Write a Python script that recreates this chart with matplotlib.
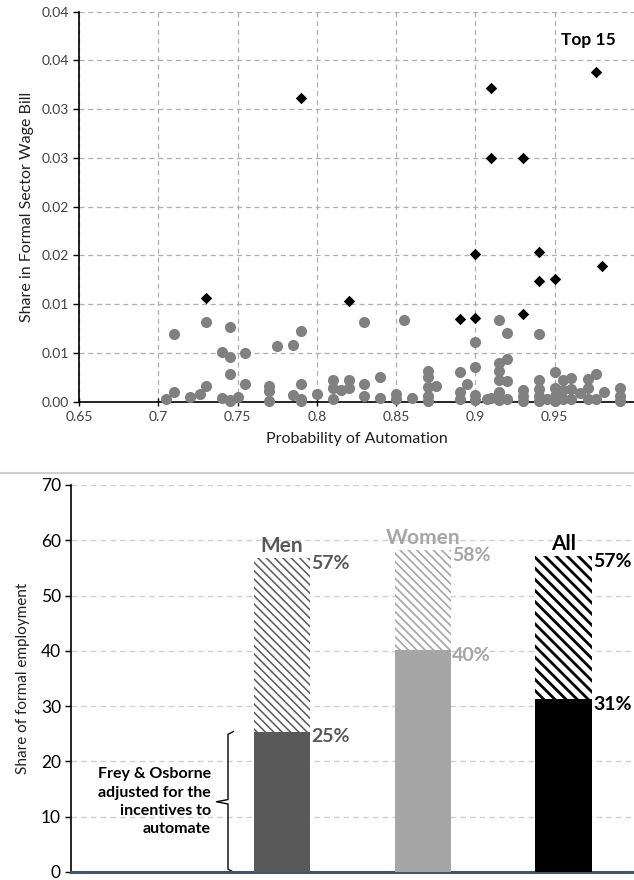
import matplotlib
matplotlib.use("Agg")
import matplotlib.pyplot as plt
from matplotlib.lines import Line2D

plt.rcParams['font.family'] = ['Lato', 'DejaVu Sans']

# ---------------- Top panel data ----------------
top15_x = [0.790, 0.976, 0.910, 0.910, 0.930, 0.900, 0.940, 0.980, 0.940, 0.950,
           0.820, 0.930, 0.890, 0.900, 0.730]
top15_y = [0.0311, 0.0338, 0.0322, 0.0250, 0.0250, 0.0151, 0.0154, 0.0139, 0.0124, 0.0126,
           0.0103, 0.0090, 0.0085, 0.0086, 0.0106]

other_x = [0.705, 0.710, 0.710, 0.720, 0.726, 0.730, 0.730, 0.740, 0.740, 0.745,
           0.745, 0.745, 0.745, 0.745, 0.750, 0.755, 0.755, 0.770, 0.770, 0.770,
           0.775, 0.785, 0.785, 0.790, 0.790, 0.790, 0.790, 0.800, 0.810, 0.810,
           0.810, 0.815, 0.820, 0.820, 0.830, 0.830, 0.830, 0.840, 0.840, 0.850,
           0.850, 0.855, 0.860, 0.870, 0.870, 0.870, 0.870, 0.870, 0.875, 0.890,
           0.890, 0.890, 0.895, 0.900, 0.900, 0.900, 0.900, 0.907, 0.910, 0.915,
           0.915, 0.915, 0.915, 0.915, 0.915, 0.920, 0.920, 0.920, 0.920, 0.930,
           0.930, 0.930, 0.940, 0.940, 0.940, 0.940, 0.940, 0.945, 0.950, 0.950,
           0.950, 0.950, 0.955, 0.955, 0.955, 0.960, 0.960, 0.960, 0.966, 0.971,
           0.971, 0.971, 0.976, 0.976, 0.981, 0.991, 0.991, 0.991]
other_y = [0.00025, 0.00692, 0.00100, 0.00045, 0.00080, 0.00815, 0.00164, 0.00507, 0.00035, 0.00770,
           0.00462, 0.00281, 0.00015, 0.00005, 0.00050, 0.00503, 0.00179, 0.00161, 0.00105, 0.00005,
           0.00575, 0.00582, 0.00070, 0.00729, 0.00179, 0.00030, 0.00005, 0.00080, 0.00220, 0.00140,
           0.00030, 0.00120, 0.00225, 0.00140, 0.00815, 0.00180, 0.00060, 0.00250, 0.00035, 0.00076,
           0.00030, 0.00839, 0.00040, 0.00315, 0.00250, 0.00150, 0.00060, 0.00010, 0.00160, 0.00300,
           0.00100, 0.00030, 0.00178, 0.00610, 0.00360, 0.00070, 0.00020, 0.00030, 0.00040, 0.00839,
           0.00394, 0.00310, 0.00220, 0.00100, 0.00020, 0.00709, 0.00435, 0.00210, 0.00030, 0.00120,
           0.00060, 0.00010, 0.00692, 0.00220, 0.00130, 0.00060, 0.00010, 0.00030, 0.00308, 0.00140,
           0.00060, 0.00010, 0.00220, 0.00120, 0.00030, 0.00240, 0.00130, 0.00030, 0.00090, 0.00230,
           0.00140, 0.00030, 0.00280, 0.00030, 0.00100, 0.00140, 0.00060, 0.00010]

top_yticks = [0.0, 0.005, 0.010, 0.015, 0.020, 0.025, 0.030, 0.035, 0.040]
top_yticklabels = ["0.00", "0.01", "0.01", "0.02", "0.02", "0.03", "0.03", "0.04", "0.04"]
top_xticks = [0.65, 0.70, 0.75, 0.80, 0.85, 0.90, 0.95]
top_xticklabels = ["0.65", "0.7", "0.75", "0.8", "0.85", "0.9", "0.95"]

# ---------------- Bottom panel data ----------------
groups = ["", "Men", "Women", "All"]
adjusted = [0, 25.4, 40.1, 31.2]
frey_osborne = [0, 56.8, 58.2, 57.1]
adjusted_labels = ["", "25%", "40%", "31%"]
fo_labels = ["", "57%", "58%", "57%"]
group_colors = ["white", "#595959", "#A6A6A6", "#000000"]
bottom_yticks = [0, 10, 20, 30, 40, 50, 60, 70]

fig = plt.figure(figsize=(6.34, 8.80), dpi=100)

# ================= Top scatter =================
ax1 = fig.add_axes([0.1246, 0.5435, 0.8754, 0.4432])
ax1.set_xlim(0.65, 1.0)
ax1.set_ylim(0, 0.04)
ax1.set_xticks(top_xticks)
ax1.set_xticklabels(top_xticklabels, fontsize=10, color='#404040')
ax1.set_yticks(top_yticks)
ax1.set_yticklabels(top_yticklabels, fontsize=10, color='#404040')
ax1.grid(True, linestyle=(0, (4, 3)), color='#AFAFAF', linewidth=0.9)
ax1.set_axisbelow(True)
for s in ['top', 'right']:
    ax1.spines[s].set_visible(False)
for s in ['left', 'bottom']:
    ax1.spines[s].set_linewidth(1.2)
    ax1.spines[s].set_color('black')
ax1.tick_params(axis='y', direction='out', length=4, width=1, pad=3)
ax1.tick_params(axis='x', direction='inout', length=6, width=1, pad=4)
ax1.scatter(other_x, other_y, s=64, color='#808080', zorder=3, clip_on=False, linewidths=0)
ax1.scatter(top15_x, top15_y, s=34, marker='D', color='black', zorder=4, clip_on=False, linewidths=0)
ax1.text(0.954, 0.0371, "Top 15", fontsize=12.5, fontweight='bold', va='center', ha='left')
ax1.set_xlabel("Probability of Automation", fontsize=11.5, color='#202020', labelpad=6)
ax1.set_ylabel("Share in Formal Sector Wage Bill", fontsize=11.5, color='#202020', labelpad=6)

# separator
fig.add_artist(Line2D([0, 1], [1 - 473 / 880] * 2, color='#D0D0D0', linewidth=1.5))

# ================= Bottom bars =================
ax2 = fig.add_axes([0.1115, 0.0091, 0.8885, 0.4398])
ax2.set_xlim(-0.5, 3.5)
ax2.set_ylim(0, 70)
ax2.set_yticks(bottom_yticks)
ax2.set_yticklabels([str(v) for v in bottom_yticks], fontsize=12.5, color='black')
ax2.set_xticks([])
ax2.grid(True, axis='y', linestyle=(0, (4, 3)), color='#D0D0D0', linewidth=1.0)
ax2.set_axisbelow(True)
for s in ['top', 'right']:
    ax2.spines[s].set_visible(False)
ax2.spines['left'].set_color('black')
ax2.spines['left'].set_linewidth(1.2)
ax2.spines['bottom'].set_color('#44546A')
ax2.spines['bottom'].set_linewidth(2.2)
ax2.tick_params(axis='y', direction='out', length=4, width=1, pad=3)
ax2.set_ylabel("Share of formal employment", fontsize=11, color='#202020', labelpad=8)

width = 0.4
hatch_lw = [1.0, 1.1, 1.2, 2.0]
hatches = ['', '\\\\\\\\', '\\\\\\\\', '\\\\\\']
for i in range(1, 4):
    c = group_colors[i]
    plt.rcParams['hatch.linewidth'] = hatch_lw[i]
    ax2.bar(i, frey_osborne[i] - adjusted[i], bottom=adjusted[i], width=width,
            facecolor='white', edgecolor=c, linewidth=0, hatch=hatches[i], zorder=2)
    ax2.bar(i, adjusted[i], width=width, color=c, linewidth=0, zorder=3)
    ax2.text(i, frey_osborne[i] + 0.4, groups[i], ha='center', va='bottom',
             fontsize=15, fontweight='bold', color=c)
    ax2.text(i + width / 2 + 0.01, frey_osborne[i] + 0.6, fo_labels[i], ha='left', va='top',
             fontsize=14, fontweight='bold', color=c)
    ax2.text(i + width / 2 + 0.01, adjusted[i] + 0.6, adjusted_labels[i], ha='left', va='top',
             fontsize=14, fontweight='bold', color=c)

# brace annotation
bx, tip, hook = 0.617, 0.535, 0.655
mid = adjusted[1] / 2
ax2.plot([hook, bx, bx, tip, bx, bx, hook],
         [adjusted[1], adjusted[1] - 0.5, mid + 0.4, mid, mid - 0.4, 0.5, 0],
         color='black', linewidth=1.0, solid_joinstyle='round', clip_on=False)
ax2.text(0.496, mid, "Frey & Osborne\nadjusted for the\nincentives to\nautomate",
         ha='right', va='center', fontsize=11.5, fontweight='bold', linespacing=1.4)

fig.savefig("out.png", dpi=100)
